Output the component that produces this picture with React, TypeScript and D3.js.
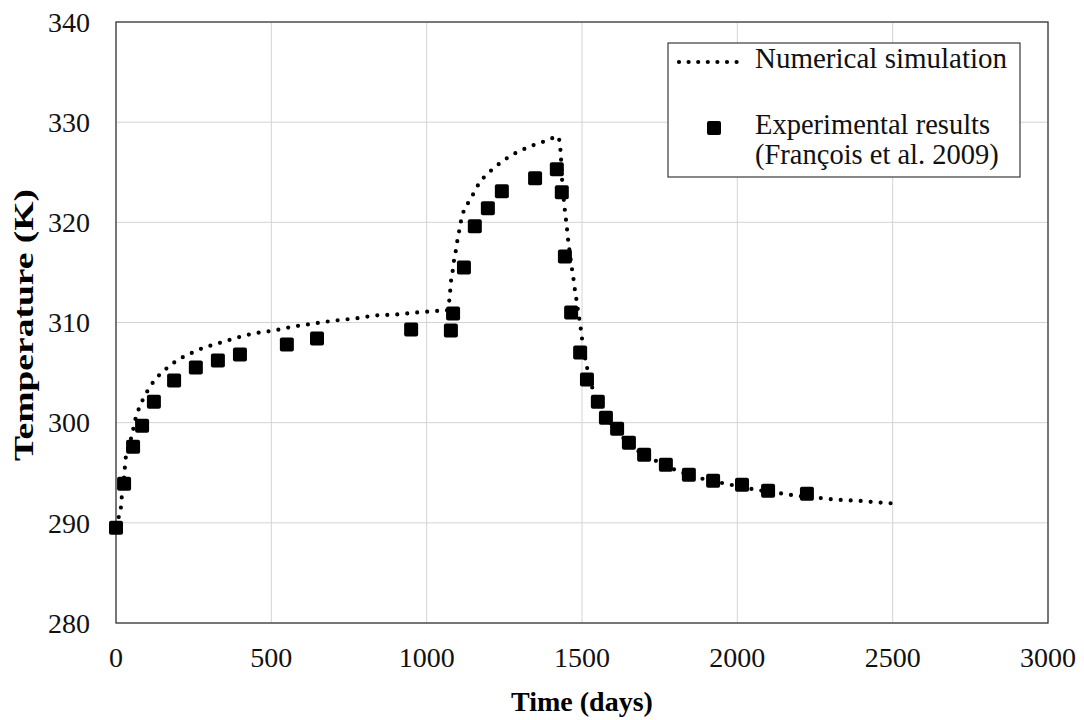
import React from "react";
import * as d3 from "d3";

const simDays = [0, 7, 15, 18, 26, 31, 40, 50, 63, 75, 88, 104, 121, 144, 170, 196, 225, 254, 284, 316, 348, 380, 443, 508, 573, 638, 706, 769, 836, 901, 968, 1032, 1064, 1070, 1074, 1077, 1080, 1084, 1088, 1094, 1099, 1105, 1111, 1120, 1137, 1153, 1169, 1191, 1216, 1240, 1268, 1298, 1328, 1360, 1391, 1422, 1429, 1432, 1436, 1441, 1447, 1451, 1454, 1458, 1467, 1472, 1476, 1481, 1491, 1496, 1500, 1517, 1534, 1551, 1577, 1613, 1651, 1700, 1751, 1807, 1901, 1963, 2062, 2127, 2193, 2258, 2325, 2389, 2450, 2496];
const simTemp = [289.6, 290.4, 291.3, 292.4, 294.5, 296.4, 297.6, 298.6, 300.4, 301.5, 302.4, 303.3, 304.1, 304.9, 305.6, 306.2, 306.7, 307.1, 307.5, 307.8, 308.1, 308.4, 308.9, 309.2, 309.6, 309.9, 310.2, 310.4, 310.7, 310.8, 311.0, 311.15, 311.2, 311.5, 312.6, 313.6, 314.6, 315.2, 316.2, 317.2, 318.2, 319.2, 320.2, 321.2, 322.1, 323.0, 323.9, 324.7, 325.4, 326.0, 326.6, 327.1, 327.5, 327.9, 328.2, 328.6, 327.8, 326.6, 324.2, 322.4, 320.6, 319.6, 318.6, 317.6, 315.5, 314.5, 313.5, 312.5, 310.4, 309.4, 308.4, 305.4, 303.4, 302.1, 300.6, 299.2, 297.9, 296.8, 296.0, 295.2, 294.3, 293.9, 293.3, 293.0, 292.7, 292.5, 292.3, 292.2, 292.05, 291.95];

const expDays = [0, 26, 55, 84, 122, 187, 257, 328, 399, 550, 647, 950, 1078, 1085, 1120, 1155, 1197, 1242, 1349, 1419, 1435, 1445, 1465, 1494, 1516, 1551, 1577, 1613, 1651, 1700, 1770, 1844, 1922, 2015, 2099, 2224];
const expTemp = [289.5, 293.9, 297.6, 299.7, 302.1, 304.2, 305.5, 306.2, 306.8, 307.8, 308.4, 309.3, 309.2, 310.9, 315.5, 319.6, 321.4, 323.1, 324.4, 325.3, 323.0, 316.6, 311.0, 307.0, 304.3, 302.1, 300.5, 299.4, 298.0, 296.8, 295.8, 294.8, 294.2, 293.8, 293.2, 292.9];

const xTicks = [0, 500, 1000, 1500, 2000, 2500, 3000];
const yTicks = [280, 290, 300, 310, 320, 330, 340];

const simLabel = "Numerical simulation";
const expLabel1 = "Experimental results";
const expLabel2 = "(François et al. 2009)";
const xTitle = "Time (days)";
const yTitle = "Temperature (K)";

const FONT = "'Liberation Serif', 'Times New Roman', serif";

export default function App() {
  const L = 116, R = 1048, T = 22, B = 623;
  const x = d3.scaleLinear().domain([0, 3000]).range([L, R]);
  const y = d3.scaleLinear().domain([280, 340]).range([B, T]);

  const simPts: [number, number][] = simDays.map((d, i) => [d, simTemp[i]]);
  const line = d3
    .line<[number, number]>()
    .x((p) => x(p[0]))
    .y((p) => y(p[1]))
    .curve(d3.curveMonotoneX);

  const sq = 14;

  return (
    <svg
      width={1084}
      height={720}
      style={{ position: "absolute", left: 0, top: 0, background: "#fff" }}
      fontFamily={FONT}
    >
      <rect x={0} y={0} width={1084} height={720} fill="#fff" />
      {/* gridlines */}
      {xTicks.map((t) => (
        <line key={"gx" + t} x1={x(t)} x2={x(t)} y1={T} y2={B} stroke="#d4d4d4" strokeWidth={1} />
      ))}
      {yTicks.map((t) => (
        <line key={"gy" + t} x1={L} x2={R} y1={y(t)} y2={y(t)} stroke="#d4d4d4" strokeWidth={1} />
      ))}
      {/* plot border */}
      <rect x={L} y={T} width={R - L} height={B - T} fill="none" stroke="#3a3a3a" strokeWidth={1.3} />

      {/* simulation dotted line */}
      <path
        d={line(simPts) || ""}
        fill="none"
        stroke="#000"
        strokeWidth={4.2}
        strokeLinecap="round"
        strokeDasharray="0 10"
      />
      {/* experimental squares */}
      {expDays.map((d, i) => (
        <rect
          key={"e" + i}
          x={x(d) - sq / 2}
          y={y(expTemp[i]) - sq / 2}
          width={sq}
          height={sq}
          rx={2}
          fill="#000"
        />
      ))}

      {/* y tick labels */}
      {yTicks.map((t) => (
        <text key={"ly" + t} x={90} y={y(t)} dy="0.35em" textAnchor="end" fontSize={28} fill="#111">
          {t}
        </text>
      ))}
      {/* x tick labels */}
      {xTicks.map((t) => (
        <text key={"lx" + t} x={x(t)} y={667} textAnchor="middle" fontSize={28} fill="#111">
          {t}
        </text>
      ))}

      {/* axis titles */}
      <text x={(L + R) / 2} y={711} textAnchor="middle" fontSize={28} fontWeight="bold" fill="#000">
        {xTitle}
      </text>
      <text
        transform={`translate(33, 325) rotate(-90)`}
        textAnchor="middle"
        fontSize={28}
        fontWeight="bold"
        fill="#000"
        textLength={272}
        lengthAdjust="spacingAndGlyphs"
      >
        {yTitle}
      </text>

      {/* legend */}
      <rect x={668} y={43} width={352} height={134} fill="#fff" stroke="#3a3a3a" strokeWidth={1.2} />
      <line x1={679} x2={746} y1={62} y2={62} stroke="#000" strokeWidth={4.2} strokeLinecap="round" strokeDasharray="0 9.6" />
      <text x={755} y={68} fontSize={29} fill="#111">
        {simLabel}
      </text>
      <rect x={714 - sq / 2} y={128 - sq / 2} width={sq} height={sq} rx={2} fill="#000" />
      <text x={755} y={134} fontSize={28.5} fill="#111">
        {expLabel1}
      </text>
      <text x={755} y={164} fontSize={28.5} fill="#111">
        {expLabel2}
      </text>
    </svg>
  );
}
